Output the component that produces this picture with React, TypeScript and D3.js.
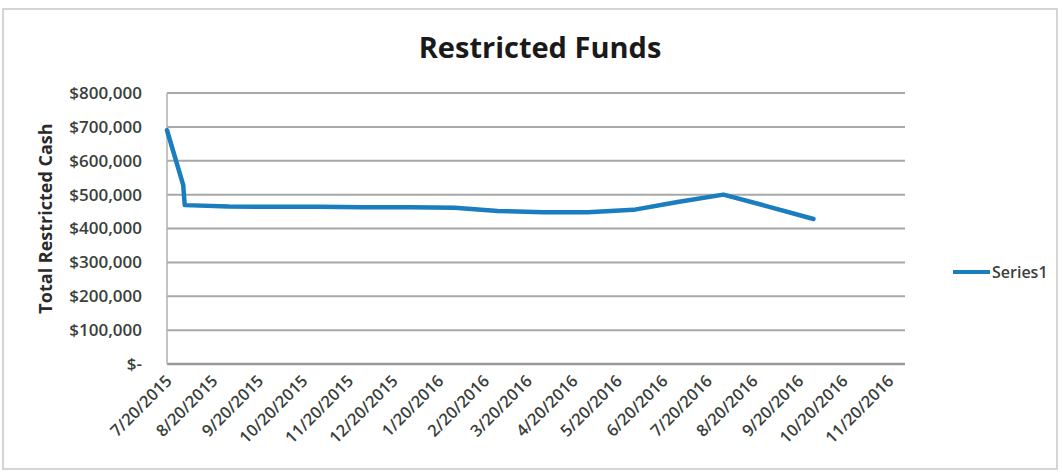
import React from "react";
import * as d3 from "d3";

const dates = [
  "7/20/2015", "7/31/2015", "8/1/2015", "8/31/2015", "9/30/2015", "10/31/2015",
  "11/30/2015", "12/31/2015", "1/31/2016", "2/29/2016", "3/31/2016", "4/30/2016",
  "5/31/2016", "6/30/2016", "7/31/2016", "8/31/2016", "9/30/2016",
];
const cash = [
  690000, 528000, 469000, 465000, 464000, 464000,
  463000, 463000, 461000, 452000, 448000, 448000,
  455000, 478000, 500000, 464000, 428000,
];
const xTicks = [
  "7/20/2015", "8/20/2015", "9/20/2015", "10/20/2015", "11/20/2015", "12/20/2015",
  "1/20/2016", "2/20/2016", "3/20/2016", "4/20/2016", "5/20/2016", "6/20/2016",
  "7/20/2016", "8/20/2016", "9/20/2016", "10/20/2016", "11/20/2016",
];
const yTicks = [0, 100000, 200000, 300000, 400000, 500000, 600000, 700000, 800000];

const parse = d3.timeParse("%m/%d/%Y");
const FONT = "'Open Sans', 'Liberation Sans', sans-serif";

const App = () => {
  const W = 1062;
  const H = 472;
  const left = 167;
  const right = 905;
  const top = 93;
  const bottom = 364;

  const x = d3
    .scaleTime()
    .domain([parse("7/20/2015")!, parse("12/1/2016")!])
    .range([left, right]);
  const y = d3.scaleLinear().domain([0, 800000]).range([bottom, top]);

  const pts = dates.map((d, i) => ({ date: parse(d)!, v: cash[i] }));
  const line = d3
    .line<{ date: Date; v: number }>()
    .x((d) => x(d.date))
    .y((d) => y(d.v));

  const fmt = (v: number) => (v === 0 ? "$-" : "$" + d3.format(",")(v));

  return (
    <svg
      width={W}
      height={H}
      style={{ position: "absolute", left: 0, top: 0, background: "#fff" }}
      fontFamily={FONT}
    >
      <rect x={3} y={9} width={1054} height={460} fill="none" stroke="#c8c8c8" strokeWidth={1.5} />
      <text x={540} y={58} textAnchor="middle" fontSize={29} fontWeight={700} fill="#1a1a1a">
        Restricted Funds
      </text>

      {yTicks.map((t) => (
        <g key={t}>
          <line
            x1={left}
            x2={right}
            y1={y(t)}
            y2={y(t)}
            stroke={t === 0 ? "#9a9a9a" : "#a8a8a8"}
            strokeWidth={t === 0 ? 2.5 : 2}
          />
          <text
            x={142}
            y={y(t)}
            dy="0.35em"
            textAnchor="end"
            fontSize={17}
            fontWeight={600}
            fill="#3a3f3c"
          >
            {fmt(t)}
          </text>
        </g>
      ))}
      <line x1={left} x2={left} y1={top} y2={bottom} stroke="#b0b0b0" strokeWidth={1.5} />

      <text
        transform={`translate(52,${(top + bottom) / 2 - 10}) rotate(-90)`}
        textAnchor="middle"
        fontSize={18}
        fontWeight={700}
        fill="#2a2a2a"
      >
        Total Restricted Cash
      </text>

      {xTicks.map((t) => {
        const px = x(parse(t)!);
        return (
          <text
            key={t}
            transform={`translate(${px + 6},${bottom + 18}) rotate(-45)`}
            textAnchor="end"
            fontSize={16.5}
            fontWeight={600}
            fill="#3a3f3c"
          >
            {t}
          </text>
        );
      })}

      <path
        d={line(pts) ?? ""}
        fill="none"
        stroke="#1a7dbf"
        strokeWidth={4.5}
        strokeLinejoin="round"
        strokeLinecap="round"
      />

      <line x1={953} x2={990} y1={272} y2={272} stroke="#1a7dbf" strokeWidth={4} />
      <text x={992} y={272} dy="0.35em" fontSize={16} fontWeight={600} fill="#3a3f3c">
        Series1
      </text>
    </svg>
  );
};

export default App;
